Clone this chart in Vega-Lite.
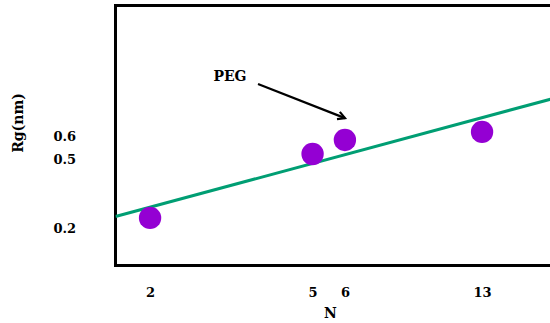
{
  "$schema": "https://vega.github.io/schema/vega-lite/v6.json",
  "autosize": "none",
  "padding": {"left": 115.5, "top": 5.5, "right": 0, "bottom": 57.5},
  "width": 440,
  "height": 260,
  "background": "white",
  "config": {
    "view": {"stroke": "black", "strokeWidth": 3},
    "font": "DejaVu Serif",
    "axis": {
      "domain": false,
      "ticks": false,
      "grid": false,
      "labelFont": "DejaVu Serif",
      "labelFontWeight": "bold",
      "labelFontSize": 13,
      "labelColor": "black",
      "titleFont": "DejaVu Serif",
      "titleFontWeight": "bold",
      "titleFontSize": 14,
      "titleColor": "black"
    }
  },
  "datasets": {
    "measured": [
      {"N": 2, "Rg": 0.246},
      {"N": 5, "Rg": 0.524},
      {"N": 6, "Rg": 0.585},
      {"N": 13, "Rg": 0.62}
    ],
    "fit": [
      {"N": 1.646, "Rg": 0.252},
      {"N": 19.67, "Rg": 0.768}
    ],
    "note": [
      {"label": "PEG", "N": 3.139, "Rg": 0.859, "N2": 3.676, "Rg2": 0.828, "Nend": 6.003, "Rgend": 0.68}
    ]
  },
  "encoding": {
    "x": {
      "field": "N",
      "type": "quantitative",
      "scale": {"type": "log", "domain": [1.646, 19.67], "nice": false},
      "axis": {"values": [2, 5, 6, 13], "title": "N", "labelPadding": 21, "labelDx": 3, "labelFlush": false, "titleX": 214.5, "titleY": 48, "titleBaseline": "middle"}
    },
    "y": {
      "field": "Rg",
      "type": "quantitative",
      "scale": {"domain": [0.0391, 1.1696], "nice": false, "zero": false},
      "axis": {"values": [0.2, 0.5, 0.6], "format": ".1f", "title": "Rg(nm)", "labelPadding": 40, "titleX": -97, "titleY": 117, "titleAngle": -90, "titleAlign": "center", "titleBaseline": "middle"}
    }
  },
  "layer": [
    {
      "data": {"name": "fit"},
      "mark": {"type": "line", "color": "#009E73", "strokeWidth": 3, "clip": true}
    },
    {
      "data": {"name": "measured"},
      "mark": {"type": "point", "shape": "circle", "filled": true, "color": "#9400D3", "opacity": 1, "size": 500}
    },
    {
      "data": {"name": "note"},
      "mark": {"type": "rule", "color": "black", "strokeWidth": 2.2},
      "encoding": {
        "x": {"field": "N2", "type": "quantitative"},
        "y": {"field": "Rg2", "type": "quantitative"},
        "x2": {"field": "Nend"},
        "y2": {"field": "Rgend"}
      }
    },
    {
      "data": {"name": "note"},
      "mark": {"type": "point", "shape": "M-1,-0.55L0,0L-1,0.55", "filled": false, "stroke": "black", "strokeWidth": 2.2, "opacity": 1, "size": 200, "angle": 21.3},
      "encoding": {
        "x": {"field": "Nend", "type": "quantitative"},
        "y": {"field": "Rgend", "type": "quantitative"}
      }
    },
    {
      "data": {"name": "note"},
      "mark": {"type": "text", "font": "DejaVu Serif", "fontWeight": "bold", "fontSize": 14, "color": "black", "align": "center", "baseline": "middle"},
      "encoding": {
        "text": {"field": "label"}
      }
    }
  ]
}
